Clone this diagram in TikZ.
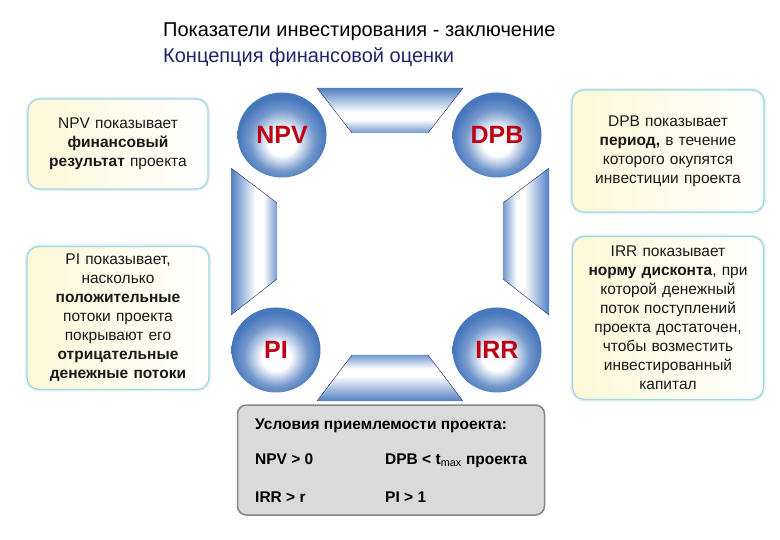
\documentclass[tikz,border=0pt]{standalone}
\usepackage{fontspec}
\setmainfont{Liberation Sans}
\usetikzlibrary{positioning,shapes.geometric}

\definecolor{ballblue}{RGB}{70,118,188}
\definecolor{barblue}{RGB}{82,128,195}
\definecolor{barline}{RGB}{30,40,110}
\definecolor{ballred}{RGB}{190,0,20}
\definecolor{boxedge}{RGB}{160,215,225}
\definecolor{boxfill}{RGB}{252,248,215}
\definecolor{condfill}{RGB}{218,218,218}
\definecolor{condedge}{RGB}{135,135,135}
\definecolor{subtitle}{RGB}{35,35,105}

\pgfdeclareradialshading{ballshade}{\pgfpoint{0bp}{-5bp}}{color(0bp)=(white); color(8bp)=(white); color(18bp)=(ballblue!75); color(25bp)=(ballblue); color(50bp)=(ballblue)}
\pgfdeclarehorizontalshading{barshade}{100bp}{color(0bp)=(barblue); color(25bp)=(barblue); color(52bp)=(white); color(60bp)=(white); color(75bp)=(barblue!80); color(100bp)=(barblue!80)}

\begin{document}
\begin{tikzpicture}[
    x=1pt, y=-1pt,
    every node/.style={font=\fontsize{15.5}{19}\selectfont, text=black!90},
    infobox/.style={draw=boxedge, line width=1.2pt, rounded corners=12pt, left color=boxfill, right color=white, align=center, inner sep=2pt, preaction={draw=boxedge!35, line width=4pt}},
    ball/.style={ellipse, shading=ballshade, minimum width=89pt, minimum height=85pt, inner sep=0pt, font=\fontsize{25}{28}\selectfont\bfseries, text=ballred},
    bar/.style={shading=barshade},
    baredge/.style={draw=barline, line width=0.4pt},
    cond/.style={anchor=base west, inner sep=0pt, font=\fontsize{15.5}{18}\selectfont\bfseries, text=black}
]
\useasboundingbox (0,0) rectangle (780,540);

% title
\node[anchor=base west, inner sep=0pt, font=\fontsize{20}{23}\selectfont, text=black] (title) at (163,37) {Показатели инвестирования - заключение};
\node[anchor=base west, inner sep=0pt, font=\fontsize{20}{23}\selectfont, text=subtitle] (subtitle) at (163,63) {Концепция финансовой оценки};

% bars between the balls
\shade[bar, shading angle=-90] (317,88) -- (463,88) -- (428,133) -- (352,133) -- cycle;
\shade[bar, shading angle=90] (352,355) -- (428,355) -- (463,401) -- (317,401) -- cycle;
\shade[bar] (231,168) -- (277,203) -- (277,279) -- (231,315) -- cycle;
\shade[bar, shading angle=180] (549,168) -- (503,203) -- (503,279) -- (549,315) -- cycle;
\draw[baredge] (317,88) -- (352,133) (463,88) -- (428,133);
\draw[baredge] (231,168) -- (277,203) (231,315) -- (277,279);
\draw[baredge] (549,168) -- (503,203) (549,315) -- (503,279);
\draw[baredge] (352,355) -- (317,401) (428,355) -- (463,401);

% balls
\node[ball] (npv) at (282,135) {NPV};
\node[ball] (dpb) at (497,135) {DPB};
\node[ball] (pi) at (276,350) {PI};
\node[ball] (irr) at (497,350) {IRR};

% explanations
\node[infobox, minimum width=180pt, minimum height=90pt, text width=174pt] (npvbox) at (118,144)
  {NPV показывает\\\textbf{финансовый}\\\textbf{результат} проекта};
\node[infobox, minimum width=192pt, minimum height=122pt, text width=186pt] (dpbbox) at (668,151)
  {DPB показывает\\\textbf{период,} в течение\\которого окупятся\\инвестиции проекта};
\node[infobox, minimum width=182pt, minimum height=143pt, text width=176pt] (pibox) at (118,318)
  {PI показывает,\\насколько\\\textbf{положительные}\\потоки проекта\\покрывают его\\\textbf{отрицательные}\\\textbf{денежные потоки}};
\node[infobox, minimum width=191pt, minimum height=163pt, text width=185pt] (irrbox) at (668,318)
  {IRR показывает\\\textbf{норму дисконта}, при\\которой денежный\\поток поступлений\\проекта достаточен,\\чтобы возместить\\инвестированный\\капитал};

% acceptance conditions
\node[draw=condedge, fill=condfill, line width=1.5pt, rounded corners=9pt, minimum width=307pt, minimum height=110pt] (cond) at (391,460) {};
\node[cond] (condhead) at (255,429) {Условия приемлемости проекта:};
\node[cond] (npvcond) at (255,464) {NPV > 0};
\node[cond] (dpbcond) at (385,464) {DPB < t\textsubscript{\mdseries max} проекта};
\node[cond] (irrcond) at (255,502) {IRR > r};
\node[cond] (picond) at (385,502) {PI > 1};
\end{tikzpicture}
\end{document}
